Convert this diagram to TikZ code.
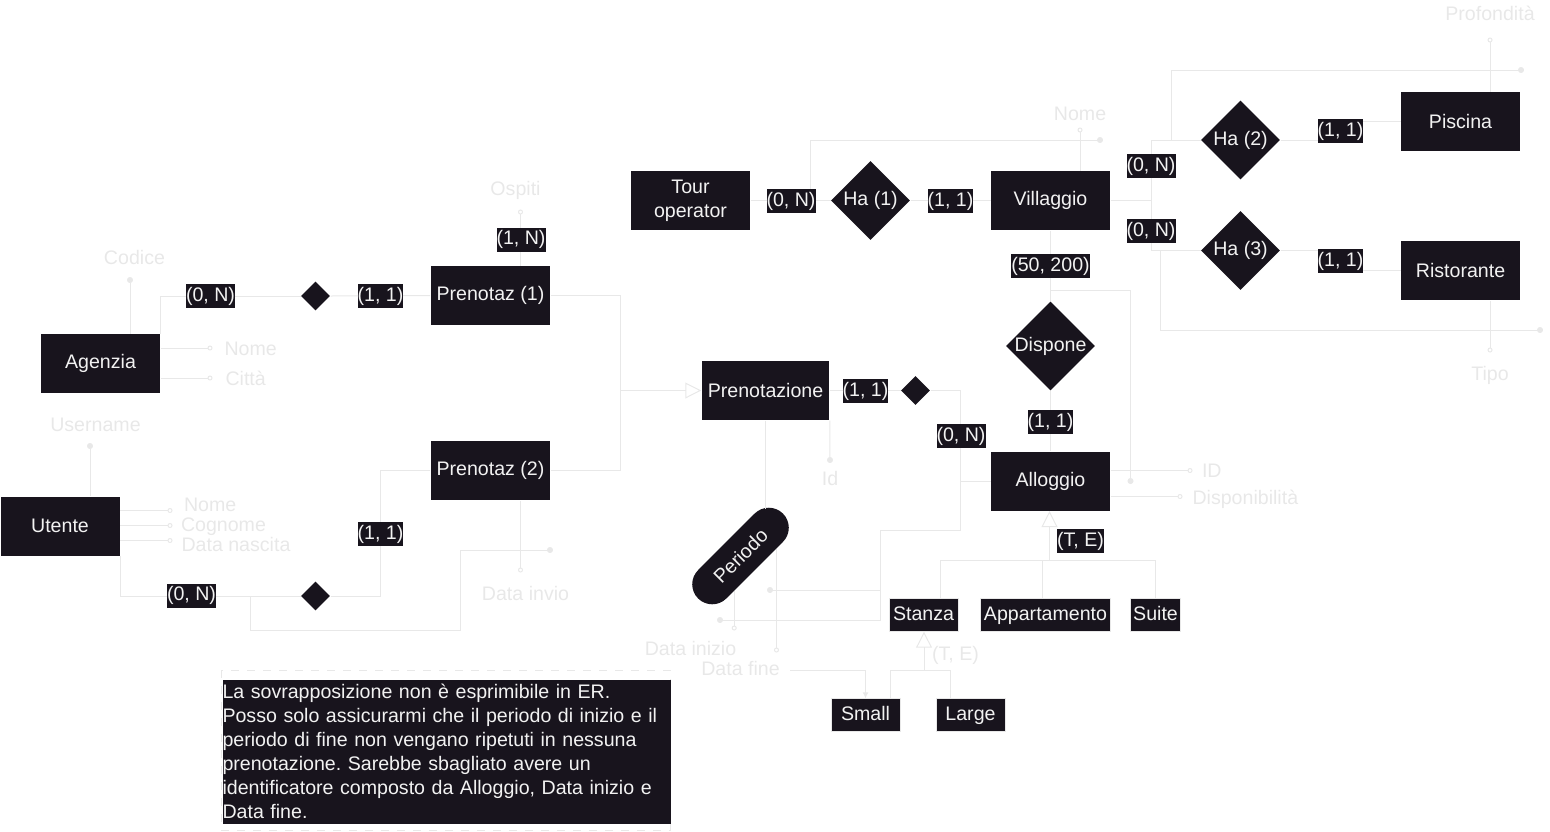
\documentclass[tikz,border=0pt]{standalone}
\usepackage{fontspec}
\setmainfont{Liberation Sans}
\usetikzlibrary{arrows.meta, shapes.geometric}
\definecolor{erfill}{RGB}{24,20,29}
\definecolor{ertext}{RGB}{242,242,242}
\definecolor{erline}{RGB}{232,232,232}
\newcommand{\reltext}[1]{\makebox[0pt]{#1}}
\frenchspacing

\begin{document}
\begin{tikzpicture}[x=0.5pt, y=-0.5pt, line width=0.5pt, color=erline, font=\fontsize{9.8}{12}\selectfont]
    \tikzstyle{entity}=[rectangle, fill=erfill, text=ertext, minimum width=59.5pt, minimum height=29.5pt, inner xsep=3pt, align=center]
    \tikzstyle{relation}=[diamond, fill=erfill, text=ertext, inner sep=0pt, minimum size=39.5pt]
    \tikzstyle{link}=[diamond, fill=erfill, inner sep=0pt, minimum size=14.5pt]
    \tikzstyle{card}=[fill=erfill, text=ertext, inner xsep=0pt, inner ysep=0pt, minimum height=12pt]
    \tikzstyle{subentity}=[rectangle, draw=erline, fill=erfill, text=ertext, minimum width=34.5pt, minimum height=14.5pt, inner xsep=1.5pt, text height=7.5pt, text depth=2pt]
    \tikzstyle{attr}=[text=erline, inner sep=0pt, text height=7pt, text depth=0pt]
    \tikzstyle{attr open}=[-{Circle[open, length=2.5pt, width=2.5pt]}]
    \tikzstyle{attr key}=[-{Circle[length=3pt, width=3pt]}]
    \tikzstyle{isa}=[-{Triangle[open, length=8pt, width=8pt]}]

    \useasboundingbox (0,0) rectangle (1550,831);

    % entita'
    \node[entity] (agenzia) at (100.5,363.5) {Agenzia};
    \node[entity] (utente) at (60,526) {Utente};
    \node[entity] (prenotaz1) at (490.5,295.5) {Prenotaz (1)};
    \node[entity] (prenotaz2) at (490.5,470.5) {Prenotaz (2)};
    \node[entity] (prenotazione) at (765.5,390.5) {Prenotazione};
    \node[entity] (tour) at (690.5,200.5) {Tour\\operator};
    \node[entity] (villaggio) at (1050.5,200.5) {Villaggio};
    \node[entity] (piscina) at (1460.5,121.5) {Piscina};
    \node[entity] (ristorante) at (1460.5,270.5) {Ristorante};
    \node[entity] (alloggio) at (1050.5,481) {Alloggio};
    \node[entity, rounded corners=10pt, minimum width=60pt, minimum height=20pt, rotate=45] (periodo) at (740.5,556) {Periodo};

    % relazioni
    \node[relation] (ha1) at (870.5,200.5) {\reltext{Ha (1)}};
    \node[relation] (ha2) at (1240.5,140) {\reltext{Ha (2)}};
    \node[relation] (ha3) at (1240.5,250.5) {\reltext{Ha (3)}};
    \node[relation, minimum size=44.5pt] (dispone) at (1050.5,346) {\reltext{Dispone}};
    \node[link] (link1) at (315.5,296) {};
    \node[link] (link2) at (315.5,596) {};
    \node[link] (link3) at (915.5,390.5) {};

    % sottoentita'
    \node[subentity] (stanza) at (923.5,615) {Stanza};
    \node[subentity] (appartamento) at (1045.5,615) {Appartamento};
    \node[subentity, minimum width=24.5pt] (suite) at (1155.5,615) {Suite};
    \node[subentity] (small) at (865.5,715) {Small};
    \node[subentity] (large) at (970.5,715) {Large};

    % attributi
    \node[attr] (codice) at (134.5,257) {Codice};
    \node[attr, anchor=west] (nomeag) at (224,348) {Nome};
    \node[attr, anchor=west] (citta) at (225,378) {Città};
    \node[attr] (username) at (95.5,424) {Username};
    \node[attr, anchor=west] (nomeut) at (183.5,504) {Nome};
    \node[attr, anchor=west] (cognome) at (180.5,524) {Cognome};
    \node[attr, anchor=west] (nascita) at (181,544) {Data nascita};
    \node[attr] (ospiti) at (515.5,188) {Ospiti};
    \node[attr] (invio) at (525.5,593) {Data invio};
    \node[attr] (idpren) at (830,478) {Id};
    \node[attr] (inizio) at (690.5,648) {Data inizio};
    \node[attr] (fine) at (740.5,668) {Data fine};
    \node[attr] (nomevil) at (1080,113) {Nome};
    \node[attr] (profondita) at (1490,13) {Profondità};
    \node[attr] (tipo) at (1490,373) {Tipo};
    \node[attr, anchor=west] (idall) at (1201.5,470) {ID};
    \node[attr, anchor=west] (disp) at (1192,497) {Disponibilità};
    \node[attr] (testanza) at (955.5,653) {(T, E)};

    \coordinate (codice-end) at (130,277);
    \coordinate (nomeag-end) at (212.5,348);
    \coordinate (citta-end) at (212.5,378);
    \coordinate (username-end) at (90,443);
    \coordinate (nomeut-end) at (172.5,510.5);
    \coordinate (cognome-end) at (172.5,525.5);
    \coordinate (nascita-end) at (172.5,540.5);
    \coordinate (ospiti-end) at (520.5,209.5);
    \coordinate (invio-end) at (520.5,572.5);
    \coordinate (invio-key-a) at (250,596);
    \coordinate (invio-key) at (553,550);
    \coordinate (idpren-end) at (830,463);
    \coordinate (periodo-top) at (765.5,509);
    \coordinate (inizio-end) at (734,630.5);
    \coordinate (fine-end) at (776,652.5);
    \coordinate (key-fork) at (880,590);
    \coordinate (inizio-key) at (717,620);
    \coordinate (fine-key) at (767,590);
    \coordinate (vil-key-a) at (810,200.5);
    \coordinate (vil-key) at (1103,140);
    \coordinate (nomevil-end) at (1080,127.5);
    \coordinate (vil-fork) at (1151,200.5);
    \coordinate (pis-bend) at (1340.5,131);
    \coordinate (ris-bend) at (1340.5,261);
    \coordinate (pis-key-a) at (1171,140);
    \coordinate (pis-key) at (1524,70);
    \coordinate (prof-end) at (1490,37.5);
    \coordinate (ris-key-a) at (1160,250.5);
    \coordinate (ris-key) at (1543,330);
    \coordinate (tipo-end) at (1490,352.5);
    \coordinate (all-key-a) at (1050.5,290);
    \coordinate (all-key) at (1130.5,484);
    \coordinate (idall-end) at (1192.5,470.5);
    \coordinate (disp-end) at (1182.5,496.5);
    \coordinate (all-bend) at (960.5,481);
    \coordinate (isa-pren) at (620,390.5);
    \coordinate (isa-all) at (1049.5,560);
    \coordinate (tree-st) at (940.5,560);
    \coordinate (tree-ap) at (1042.5,560);
    \coordinate (tree-su) at (1155.5,560);
    \coordinate (isa-st) at (924,670);
    \coordinate (tree-sm) at (890.5,670);
    \coordinate (tree-la) at (950,670);

    % Agenzia, Utente
    \draw[attr key] (agenzia.north -| codice-end) -- (codice-end);
    \draw[attr open] (agenzia.east |- nomeag-end) -- (nomeag-end);
    \draw[attr open] (agenzia.east |- citta-end) -- (citta-end);
    \draw[attr key] (utente.north -| username-end) -- (username-end);
    \draw[attr open] (utente.east |- nomeut-end) -- (nomeut-end);
    \draw[attr open] (utente.east |- cognome-end) -- (cognome-end);
    \draw[attr open] (utente.east |- nascita-end) -- (nascita-end);
    \draw (agenzia.north east) |- (link1.west);
    \draw (link1.east) -- (prenotaz1.west);
    \draw (utente.south east) |- (link2.west);
    \draw (link2.east) -| (380.5,534) |- (prenotaz2.west);
    \draw[attr open] (prenotaz1.north -| ospiti-end) -- (ospiti-end);
    \draw[attr open] (prenotaz2.south -| invio-end) -- (invio-end);
    \draw[attr key] (invio-key-a) |- (460,630) |- (invio-key);

    % Prenotazione
    \draw (prenotaz1.east) -| (isa-pren);
    \draw (prenotaz2.east) -| (isa-pren);
    \draw[isa] (isa-pren) -- (prenotazione.west);
    \draw[attr key] (prenotazione.south east) -- (idpren-end);
    \draw (prenotazione.south) -- (periodo-top);
    \path (periodo.south west) -- (periodo.south east) coordinate[pos=0.257] (inizio-a) coordinate[pos=0.751] (fine-a);
    \draw[attr open] (inizio-a) -- (inizio-a |- inizio-end);
    \draw[attr open] (fine-a) -- (fine-a |- fine-end);
    \draw (prenotazione.east) -- (link3.west);
    \draw (link3.east) -| (all-bend) -- (alloggio.west);
    \draw[attr key] (all-bend) |- (880,530) |- (inizio-key);
    \draw[attr key] (key-fork) -- (fine-key);
    \draw[-{Latex[length=3pt, width=3pt]}] ([shift={(5pt,-1pt)}]fine.east) -| (small.north);

    % Villaggio
    \draw (tour.east) -- (ha1.west);
    \draw (ha1.east) -- (villaggio.west);
    \draw[attr key] (vil-key-a) |- (vil-key);
    \draw[attr open] (villaggio.north -| nomevil-end) -- (nomevil-end);
    \draw (villaggio.east) -- (vil-fork) |- (ha2.west);
    \draw (vil-fork) |- (ha3.west);
    \draw (ha2.east) -| (pis-bend) |- (piscina.west);
    \draw (ha3.east) -| (ris-bend) |- (ristorante.west);
    \draw[attr key] (pis-key-a) |- (pis-key);
    \draw[attr open] (piscina.north -| prof-end) -- (prof-end);
    \draw[attr key] (ris-key-a) |- (ris-key);
    \draw[attr open] (ristorante.south -| tipo-end) -- (tipo-end);

    % Alloggio
    \draw (villaggio.south) -- (dispone.north);
    \draw (dispone.south) -- (alloggio.north);
    \draw[attr key] (all-key-a) -| (all-key);
    \draw[attr open] (alloggio.east |- idall-end) -- (idall-end);
    \draw[attr open] (alloggio.east |- disp-end) -- (disp-end);
    \draw[isa] (isa-all) -- (isa-all |- alloggio.south);
    \draw (tree-st) -- (tree-su);
    \draw (tree-st) -- (stanza.north -| tree-st);
    \draw (tree-ap) -- (appartamento.north -| tree-ap);
    \draw (tree-su) -- (suite.north);
    \draw[isa] (isa-st) -- (stanza.south -| isa-st);
    \draw (tree-sm) -- (tree-la);
    \draw (tree-sm) -- (small.north -| tree-sm);
    \draw (tree-la) -- (large.north -| tree-la);

    % cardinalita'
    \node[card] (card1) at (210.5,296) {(0, N)};
    \node[card] (card2) at (380.5,296) {(1, 1)};
    \node[card] (card3) at (521,239.5) {(1, N)};
    \node[card] (card4) at (380.5,534) {(1, 1)};
    \node[card] (card5) at (191.5,595.5) {(0, N)};
    \node[card] (card6) at (791,201) {(0, N)};
    \node[card] (card7) at (950.5,201) {(1, 1)};
    \node[card] (card8) at (1050.5,266) {(50, 200)};
    \node[card] (card9) at (1151,166) {(0, N)};
    \node[card] (card10) at (1151,231) {(0, N)};
    \node[card] (card11) at (1340.5,131) {(1, 1)};
    \node[card] (card12) at (1340.5,261) {(1, 1)};
    \node[card] (card13) at (865.5,391) {(1, 1)};
    \node[card] (card14) at (961,436) {(0, N)};
    \node[card] (card15) at (1050.5,422) {(1, 1)};
    \node[card] (card16) at (1080.5,541) {(T, E)};

    % nota
    \draw[dash pattern=on 4pt off 4pt] (221,670) rectangle (670,830);
    \node[anchor=north west, fill=erfill, text=ertext, text width=224pt, inner sep=0pt, minimum height=72pt, align=left] (nota) at (222,679) {La sovrapposizione non è esprimibile in ER.\\Posso solo assicurarmi che il periodo di inizio e il\\periodo di fine non vengano ripetuti in nessuna\\prenotazione. Sarebbe sbagliato avere un\\identificatore composto da Alloggio, Data inizio e\\Data fine.};
\end{tikzpicture}
\end{document}
